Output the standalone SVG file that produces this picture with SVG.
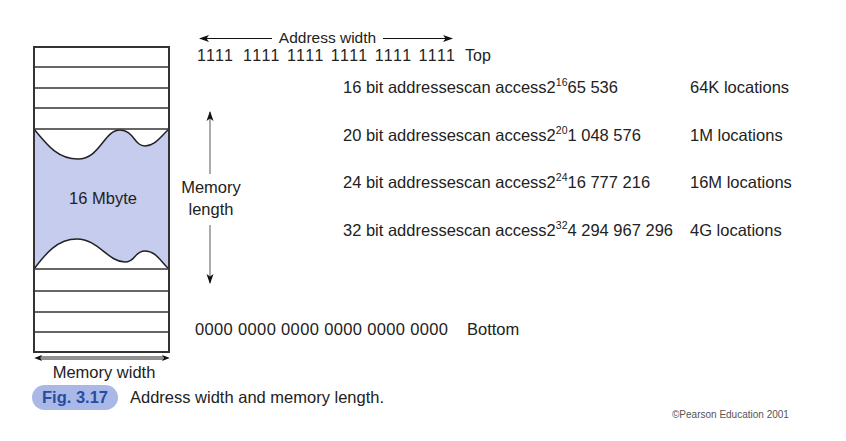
<svg xmlns="http://www.w3.org/2000/svg" width="846" height="441" viewBox="0 0 846 441">
<style>
.t{font-family:"Liberation Sans",Arial,sans-serif;font-size:16.5px;fill:#222}
.box{fill:none;stroke:#333;stroke-width:2}
.row{stroke:#333;stroke-width:1.6}
.wave{fill:#c6ccee;stroke:#222;stroke-width:1.5}
.arr{stroke:#111;stroke-width:1.2;fill:none}
.garr{stroke:#888;stroke-width:1.4;fill:none}
</style>
<defs>
<marker id="ah" viewBox="0 0 10 10" refX="9" refY="5" markerWidth="10" markerHeight="10" markerUnits="userSpaceOnUse" orient="auto">
<path d="M0,1.5 L10,5 L0,8.5 L2.5,5 Z" fill="#111"/>
</marker>
<marker id="ahs" viewBox="0 0 10 10" refX="9" refY="5" markerWidth="8" markerHeight="8" markerUnits="userSpaceOnUse" orient="auto-start-reverse">
<path d="M0,1 L10,5 L0,9 L2.5,5 Z" fill="#111"/>
</marker>
</defs>
<rect width="846" height="441" fill="#ffffff"/>

<g id="memory-block">
<path class="wave" d="M34,129 C48,146 58,159 78,159 C100,159 104,130 120,130 C134,130 134,146 145,146 C155,146 161,136 169,129 L169,269 C161,262 156,251 145,251 C134,251 136,262 125,262 C108,262 98,239 77,239 C56,239 44,256 34,269 Z"/>
<line class="row" x1="34" y1="67" x2="169" y2="67"/>
<line class="row" x1="34" y1="88" x2="169" y2="88"/>
<line class="row" x1="34" y1="108" x2="169" y2="108"/>
<line class="row" x1="34" y1="129" x2="169" y2="129"/>
<line class="row" x1="34" y1="269" x2="169" y2="269"/>
<line class="row" x1="34" y1="291" x2="169" y2="291"/>
<line class="row" x1="34" y1="312" x2="169" y2="312"/>
<line class="row" x1="34" y1="332" x2="169" y2="332"/>
<rect class="box" x="34" y="47" width="135" height="305"/>
<text class="t" x="103" y="204" text-anchor="middle">16 Mbyte</text>
</g>

<g id="connectors">
<line class="arr" x1="272" y1="38.5" x2="200" y2="38.5" marker-end="url(#ah)"/>
<line class="arr" x1="383" y1="38.5" x2="452" y2="38.5" marker-end="url(#ah)"/>
<line class="garr" x1="210" y1="174" x2="210" y2="112" marker-end="url(#ah)"/>
<line class="garr" x1="210" y1="225" x2="210" y2="283" marker-end="url(#ah)"/>
<line stroke="#222" stroke-width="3" x1="40" y1="358" x2="163" y2="358"/>
<line stroke="#fff" stroke-width="1" x1="40" y1="358" x2="163" y2="358"/>
<line stroke="none" x1="60" y1="358" x2="35" y2="358" marker-end="url(#ahs)"/>
<line stroke="none" x1="140" y1="358" x2="169" y2="358" marker-end="url(#ahs)"/>
</g>

<g id="address-width-label">
<text class="t" x="327.5" y="43" text-anchor="middle" font-size="15.5" style="font-size:15.5px">Address width</text>
</g>
<g id="top-row">
<text class="t" x="197" y="61" textLength="36" lengthAdjust="spacing" style="font-size:16px">1111</text>
<text class="t" x="243" y="61" textLength="212" lengthAdjust="spacing" style="font-size:16px">1111 1111 1111 1111 1111</text>
<text class="t" x="465" y="61" style="font-size:16px">Top</text>
</g>
<g id="memory-length-label">
<text class="t" x="211" y="193" text-anchor="middle">Memory</text>
<text class="t" x="211" y="215" text-anchor="middle">length</text>
</g>

<g id="row-16">
<text class="t" x="343" y="93">16 bit addressescan access2<tspan font-size="10.5" dy="-7">16</tspan><tspan dy="7">65 536</tspan></text>
<text class="t" x="690" y="93">64K locations</text>
</g>
<g id="row-20">
<text class="t" x="343" y="141">20 bit addressescan access2<tspan font-size="10.5" dy="-7">20</tspan><tspan dy="7">1 048 576</tspan></text>
<text class="t" x="690" y="141">1M locations</text>
</g>
<g id="row-24">
<text class="t" x="343" y="188">24 bit addressescan access2<tspan font-size="10.5" dy="-7">24</tspan><tspan dy="7">16 777 216</tspan></text>
<text class="t" x="690" y="188">16M locations</text>
</g>
<g id="row-32">
<text class="t" x="343" y="236">32 bit addressescan access2<tspan font-size="10.5" dy="-7">32</tspan><tspan dy="7">4 294 967 296</tspan></text>
<text class="t" x="690" y="236">4G locations</text>
</g>

<g id="bottom-row">
<text class="t" x="195" y="335" textLength="253" lengthAdjust="spacing">0000 0000 0000 0000 0000 0000</text>
<text class="t" x="467" y="335">Bottom</text>
</g>

<g id="memory-width-label">
<text class="t" x="104" y="378" text-anchor="middle">Memory width</text>
</g>

<g id="caption">
<rect x="32" y="385" width="86" height="25" rx="12.5" fill="#aab8e8"/>
<text x="75" y="403" text-anchor="middle" font-family="Liberation Sans,Arial,sans-serif" font-size="16.5" font-weight="bold" fill="#2a4c9c">Fig. 3.17</text>
<text class="t" x="130" y="403">Address width and memory length.</text>
</g>

<g id="copyright">
<text x="672" y="418" font-family="Liberation Sans,Arial,sans-serif" font-size="10" fill="#555">©Pearson Education 2001</text>
</g>
</svg>
